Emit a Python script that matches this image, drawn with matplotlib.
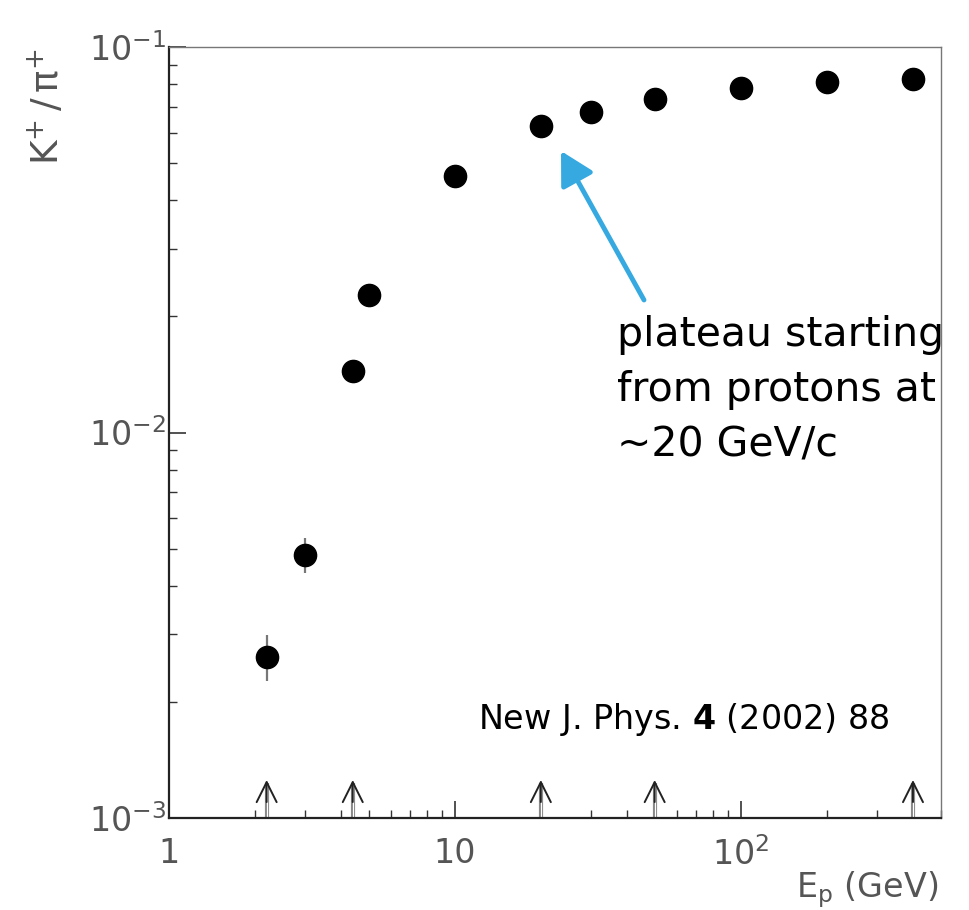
import matplotlib
matplotlib.use("Agg")
import matplotlib.pyplot as plt
from matplotlib.ticker import LogLocator, FixedLocator, NullFormatter

# ---- data ----
energy = [2.2, 3.0, 4.4, 5.0, 10, 20, 30, 50, 100, 200, 400]
ratio = [0.00262, 0.00482, 0.0144, 0.0227, 0.0462, 0.0623, 0.0678, 0.0733, 0.0783, 0.0811, 0.0826]
ratio_err = [0.00036, 0.00050, 0, 0, 0, 0, 0, 0, 0, 0, 0]
arrow_energy = [2.2, 4.4, 20, 50, 400]
xtick_vals = [1, 10, 100]
xtick_labels = ["1", "10", r"$10^{2}$"]
ytick_vals = [1e-3, 1e-2, 1e-1]
ytick_labels = [r"$10^{-3}$", r"$10^{-2}$", r"$10^{-1}$"]

W, H = 969, 910
fig = plt.figure(figsize=(W / 100, H / 100), dpi=100)
ax = fig.add_axes([168.7 / W, 1 - 818 / H, (940.7 - 168.7) / W, (818 - 47) / H])
ax.set_xscale("log")
ax.set_yscale("log")
ax.set_xlim(1, 500)
ax.set_ylim(1e-3, 1e-1)

gray = "#555555"
ax.errorbar(energy, ratio, yerr=ratio_err, fmt="o", color="black", ms=16,
            ecolor="#777777", elinewidth=1.6, capsize=0, zorder=3)

# arrows at the bottom
ytop = 1.255e-3
for xa in arrow_energy:
    ax.plot([xa, xa], [1e-3, ytop * 0.985], color="#888888", lw=3.0, zorder=2, solid_capstyle="butt")
    ax.plot([xa, xa], [1e-3, ytop * 0.985], color="white", lw=0.8, zorder=2, solid_capstyle="butt")
    ax.annotate("", xy=(xa, ytop), xytext=(xa, 1.1e-3),
                arrowprops=dict(arrowstyle="->", lw=1.4, color="#222222", mutation_scale=36,
                                shrinkA=0, shrinkB=0), zorder=4)

# ticks
ax.xaxis.set_major_locator(FixedLocator(xtick_vals))
ax.set_xticklabels(xtick_labels)
ax.xaxis.set_minor_locator(LogLocator(base=10, subs=range(2, 10)))
ax.xaxis.set_minor_formatter(NullFormatter())
ax.yaxis.set_major_locator(FixedLocator(ytick_vals))
ax.set_yticklabels(ytick_labels)
ax.yaxis.set_minor_locator(LogLocator(base=10, subs=range(2, 10)))
ax.yaxis.set_minor_formatter(NullFormatter())

ax.tick_params(which="both", direction="in", top=False, right=False, colors="#333333")
ax.tick_params(which="major", length=12, width=1.2, labelsize=24, labelcolor=gray)
ax.tick_params(which="minor", length=6, width=1.0)
ax.tick_params(axis="x", which="major", pad=14)
ax.tick_params(axis="y", which="major", pad=2)

for side in ["left", "bottom"]:
    ax.spines[side].set_linewidth(1.6)
    ax.spines[side].set_color("#222222")
for side in ["top", "right"]:
    ax.spines[side].set_linewidth(1.0)
    ax.spines[side].set_color("#777777")

# axis labels
fig.text(938 / W, 1 - 897 / H, r"$\mathrm{E_{p}}$ (GeV)", ha="right", va="baseline",
         fontsize=24, color=gray)
fig.text(47 / W, 1 - 48 / H, r"$\mathrm{K^{+}\,/\,\pi^{+}}$", ha="center", va="top",
         rotation=90, fontsize=27, color=gray)

# annotation arrow
blue = "#36A9E1"
fig.patches.append(matplotlib.patches.FancyArrowPatch(
    (644 / W, 1 - 300 / H), (561 / W, 1 - 151 / H), transform=fig.transFigure,
    arrowstyle="-|>,head_length=1.0,head_width=0.55", mutation_scale=20,
    color=blue, lw=3.5, shrinkA=0, shrinkB=0))

fig.text(617 / W, 1 - 457 / H, "plateau starting\nfrom protons at\n~20 GeV/c",
         ha="left", va="baseline", fontsize=29.5, color="black", linespacing=1.5,
         family="DejaVu Sans")

fig.text(478 / W, 1 - 729 / H, r"New J. Phys. $\mathbf{4}$ (2002) 88", ha="left",
         va="baseline", fontsize=24, color="black", family="DejaVu Sans")

fig.savefig("out.png", dpi=100)
